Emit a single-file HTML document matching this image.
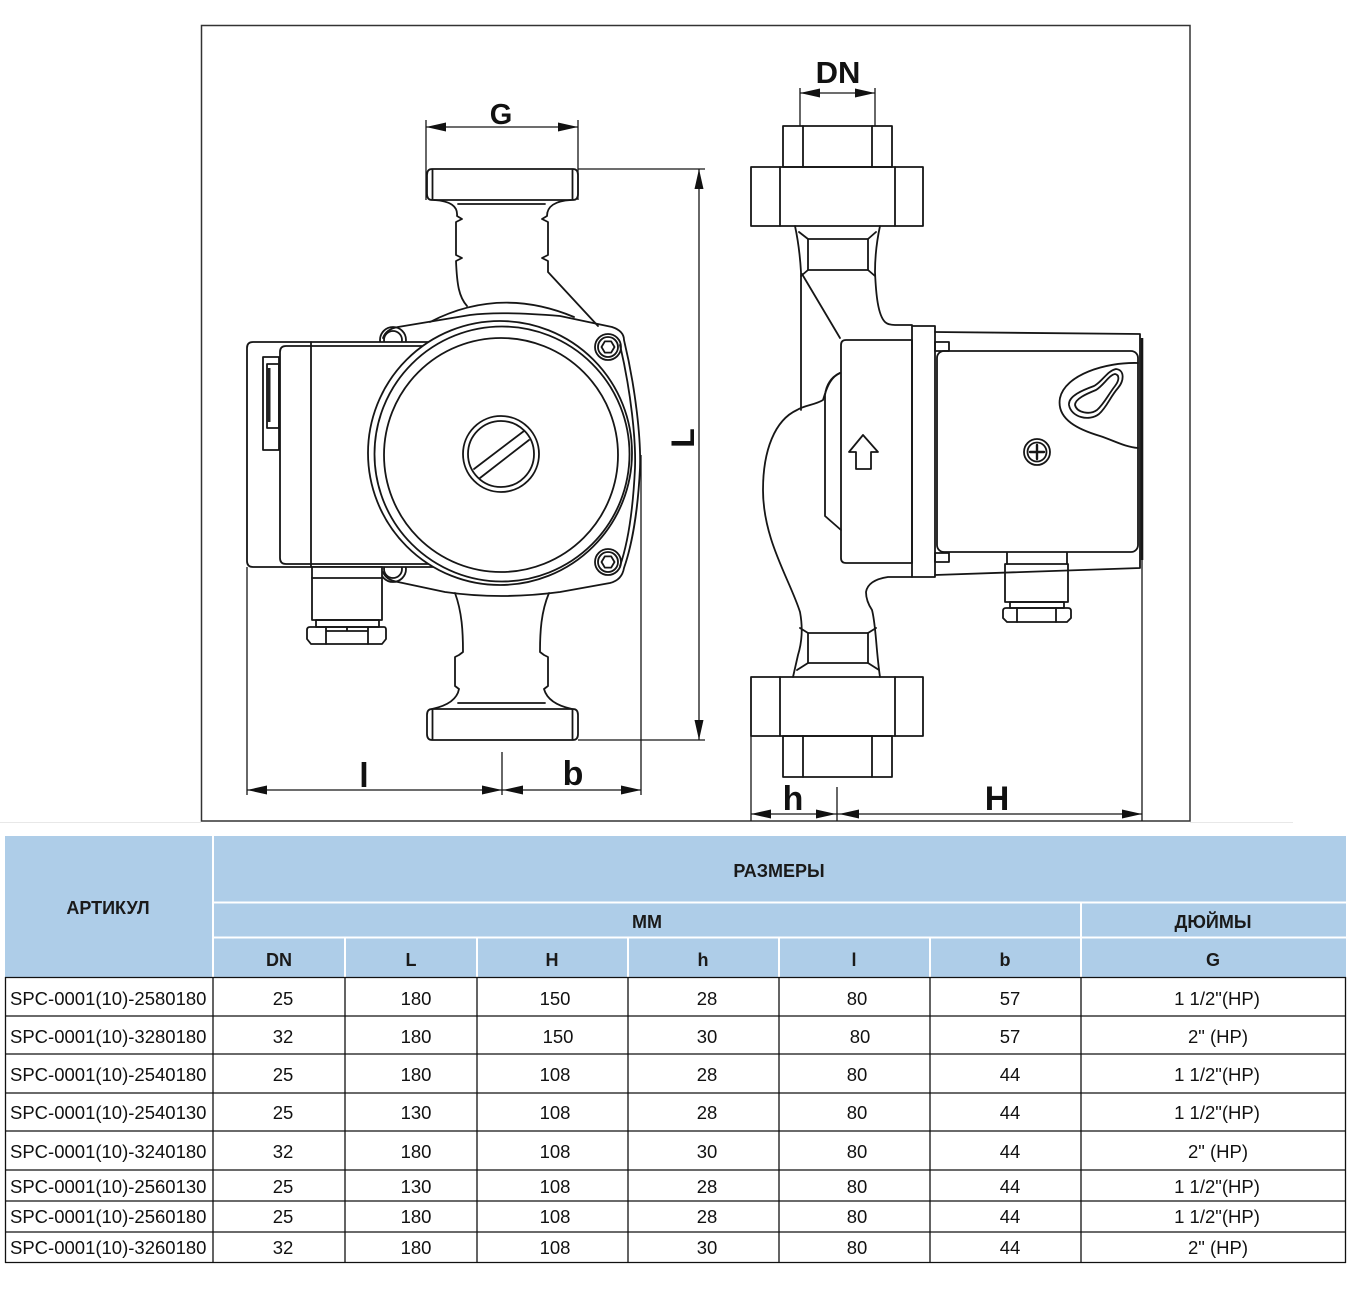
<!DOCTYPE html>
<html><head><meta charset="utf-8"><style>
html,body{margin:0;padding:0;background:#fff;}
svg{display:block;}
.d{fill:none;stroke:#161616;stroke-width:1.8;stroke-linejoin:round;stroke-linecap:round;}
.t{fill:none;stroke:#161616;stroke-width:1.3;}
.a{fill:#111;stroke:none;}
.lbl{font-family:"Liberation Sans",sans-serif;font-weight:bold;fill:#111;}
.hd{font-family:"Liberation Sans",sans-serif;font-weight:bold;font-size:18px;fill:#1a1a1a;}
.td{font-family:"Liberation Sans",sans-serif;font-size:18.5px;fill:#111;}
</style></head><body>
<svg width="1362" height="1313" viewBox="0 0 1362 1313" xmlns="http://www.w3.org/2000/svg">
<rect x="0" y="0" width="1362" height="1313" fill="#fff"/>
<line x1="0" y1="822.5" x2="201" y2="822.5" stroke="#e8e8e8" stroke-width="1"/>
<line x1="1190" y1="822.5" x2="1293" y2="822.5" stroke="#e8e8e8" stroke-width="1"/>
<rect x="201.5" y="25.5" width="988.5" height="795.5" fill="none" stroke="#333" stroke-width="1.5"/>

<!-- ===== LEFT (front) VIEW ===== -->
<g class="d">
  <path d="M432,169 H573 Q578,169 578,175 V194 Q578,200 573,200 H432 Q427,200 427,194 V175 Q427,169 432,169 Z"/>
  <line x1="432.5" y1="170" x2="432.5" y2="199"/>
  <line x1="572.5" y1="170" x2="572.5" y2="199"/>
  <path d="M434,200 C450,201 458,206 457,216 L462,219 L456,222 V255 L462,258 L456,261 C457,285 459,297 467,306"/>
  <path d="M571,200 C555,201 547,206 547,216 L542,219 L548,222 V255 L542,258 L548,261 V272 L598,326"/>
  <path d="M458,204 H545"/>
  <path d="M383,338 Q386,329 398,327 L470,315 Q500,311 560,316 L612,327 Q624,331 624,340 C636,390 641,440 640,468 C638,510 632,545 624,568 Q622,580 610,583 L560,592 Q500,600 445,592 L398,582 Q386,580 383,572"/>
  <path d="M430,322 Q500,286 574,317"/>
  <path d="M620,345 C631,392 636,440 635,468 C633,510 628,543 620,566"/>
  <circle cx="608" cy="347" r="13"/><circle cx="608" cy="347" r="10"/>
  <polygon points="614.5,347 611.2,352.6 604.8,352.6 601.5,347 604.8,341.4 611.2,341.4"/>
  <circle cx="608" cy="562" r="13"/><circle cx="608" cy="562" r="10"/>
  <polygon points="614.5,562 611.2,567.6 604.8,567.6 601.5,562 604.8,556.4 611.2,556.4"/>
  <circle cx="393" cy="340" r="13"/><circle cx="393" cy="340" r="9"/>
  <circle cx="393" cy="569" r="13"/><circle cx="393" cy="569" r="9"/>
  <path d="M447,342 H253 Q247,342 247,348 V561 Q247,567 253,567 H447 Z" fill="#fff"/>
  <path d="M447,346 H286 Q280,346 280,352 V558 Q280,564 286,564 H447"/>
  <line x1="311" y1="342" x2="311" y2="567"/>
  <rect x="263" y="357" width="16" height="93"/>
  <rect x="267" y="364" width="12" height="64"/>
  <circle cx="500" cy="453" r="132" fill="#fff"/>
  <circle cx="502" cy="454" r="127.5"/>
  <circle cx="501" cy="455" r="117"/>
  <circle cx="501" cy="454" r="38"/>
  <circle cx="501" cy="454" r="33"/>
  <line x1="474" y1="469" x2="524" y2="431"/>
  <line x1="480" y1="478" x2="529" y2="440"/>
  <rect x="312" y="567" width="70" height="53" fill="#fff"/>
  <line x1="312" y1="578" x2="382" y2="578"/>
  <rect x="316" y="620" width="63" height="7"/>
  <path d="M310,627 H384 Q386,627 386,630 V639 L382,644 H311 L307,639 V630 Q307,627 310,627 Z"/>
  <path d="M326,627 V644 M368,627 V644 M347,627 V631 M326,631 H368"/>
  <path d="M455,593 C462,612 463,632 463,652 L459,655 L455,657 V686 L459,689 C457,700 446,706 432,709"/>
  <path d="M549,593 C541,612 540,632 540,652 L544,655 L548,657 V686 L544,689 C547,700 558,706 572,709"/>
  <path d="M458,703 H545"/>
  <path d="M432,709 H573 Q578,709 578,715 V734 Q578,740 573,740 H432 Q427,740 427,734 V715 Q427,709 432,709 Z"/>
  <line x1="432.5" y1="710" x2="432.5" y2="739"/>
  <line x1="572.5" y1="710" x2="572.5" y2="739"/>
</g>
<rect x="267" y="368" width="3.5" height="54" fill="#222"/>

<g class="t">
  <path d="M426,120 V200 M578,120 V200 M426,127 H578"/>
  <path d="M578,169 H705 M578,740 H705 M699,169 V740"/>
  <path d="M247,567 V795 M502,752 V795 M641,455 V795 M247,790 H641"/>
</g>
<g class="a">
  <polygon points="426,127 446,122.5 446,131.5"/>
  <polygon points="578,127 558,122.5 558,131.5"/>
  <polygon points="699,169 694.5,189 703.5,189"/>
  <polygon points="699,740 694.5,720 703.5,720"/>
  <polygon points="247,790 267,785.5 267,794.5"/>
  <polygon points="502,790 482,785.5 482,794.5"/>
  <polygon points="503,790 523,785.5 523,794.5"/>
  <polygon points="641,790 621,785.5 621,794.5"/>
</g>
<text class="lbl" x="501" y="124" font-size="29" text-anchor="middle">G</text>
<text class="lbl" x="683" y="438" font-size="32" text-anchor="middle" dominant-baseline="central" transform="rotate(-90 683 438)">L</text>
<text class="lbl" x="364" y="787" font-size="34" text-anchor="middle">l</text>
<text class="lbl" x="573" y="785" font-size="34" text-anchor="middle">b</text>

<!-- ===== RIGHT (side) VIEW ===== -->
<g class="d">
  <rect x="783" y="126" width="109" height="41"/>
  <path d="M803,126 V167 M872,126 V167"/>
  <rect x="751" y="167" width="172" height="59"/>
  <path d="M780,167 V226 M895,167 V226"/>
  <path d="M795,226 C798,240 800,255 801,272 V410"/>
  <path d="M880,226 C877,240 875,255 875,272 C876,295 878,315 885,322 Q888,325 895,325 H912"/>
  <rect x="808" y="239" width="60" height="31"/>
  <path d="M799,232 L808,239 M876,232 L868,239 M801,276 L808,270 M875,276 L868,270"/>
  <path d="M802,274 L840,338"/>
  <path d="M846,340 H912 V563 H846 Q841,563 841,558 V345 Q841,340 846,340 Z"/>
  <path d="M840,373 C830,377 826,390 823,400 C815,405 805,405 797,410 C775,420 763,450 763,490 C763,540 790,580 800,612 C803,628 802,642 798,655 L793,677"/>
  <path d="M840,373 Q827,379 825,395 V516 L841,530"/>
  <rect x="912" y="326" width="23" height="251"/>
  <rect x="935" y="342" width="14" height="9"/>
  <rect x="935" y="553" width="14" height="9"/>
  <path d="M935,332 L1140,334 V568 L935,575"/>
  <rect x="937" y="351" width="201" height="201" rx="7"/>
  <path d="M1138,363 C1105,362 1065,375 1060,398 C1056,420 1080,430 1100,436 C1115,441 1125,447 1138,448"/>
  <path d="M1116,369 C1125,370 1124,381 1118,388 C1110,397 1107,407 1099,414 C1089,422 1071,417 1069,405 C1068,396 1083,390 1094,386 C1103,381 1107,371 1116,369 Z"/>
  <path d="M1115,374 C1120,375 1119,381 1115,386 C1108,395 1104,404 1097,410 C1090,415 1077,413 1075,405 C1075,399 1086,394 1096,390 C1104,385 1109,375 1115,374 Z"/>
  <circle cx="1037" cy="452" r="13"/>
  <circle cx="1037" cy="452" r="9.5"/>
  <path d="M1030,452 H1044 M1037,445 V459" stroke-width="2.4"/>
  <path d="M863,435 L878,452 L871,452 L871,469 L856,469 L856,452 L849,452 Z"/>
  <path d="M912,577 H888 Q868,580 866,592 Q866,601 872,610 C876,625 876,650 880,677"/>
  <rect x="808" y="633" width="60" height="30"/>
  <path d="M800,628 L808,633 M876,628 L868,633 M797,670 L808,663 M879,670 L868,663"/>
  <rect x="751" y="677" width="172" height="59"/>
  <path d="M780,677 V736 M895,677 V736"/>
  <rect x="783" y="736" width="109" height="41"/>
  <path d="M803,736 V777 M872,736 V777"/>
  <path d="M1007,553 V564 M1067,553 V564"/>
  <rect x="1005" y="564" width="63" height="38"/>
  <rect x="1010" y="602" width="54" height="6"/>
  <path d="M1006,608 H1068 Q1071,608 1071,611 V618 L1067,622 H1007 L1003,618 V611 Q1003,608 1006,608 Z"/>
  <path d="M1017,608 V622 M1056,608 V622"/>
</g>
<line x1="1142" y1="338" x2="1142" y2="560" stroke="#161616" stroke-width="2.6"/>
<g class="t">
  <path d="M800,88 V126 M875,88 V126 M800,93 H875"/>
  <path d="M751,736 V821 M837,787 V821 M1142,560 V821 M751,814 H1142"/>
</g>
<g class="a">
  <polygon points="800,93 820,88.5 820,97.5"/>
  <polygon points="875,93 855,88.5 855,97.5"/>
  <polygon points="751,814 771,809.5 771,818.5"/>
  <polygon points="836,814 816,809.5 816,818.5"/>
  <polygon points="839,814 859,809.5 859,818.5"/>
  <polygon points="1142,814 1122,809.5 1122,818.5"/>
</g>
<text class="lbl" x="838" y="83" font-size="31" text-anchor="middle">DN</text>
<text class="lbl" x="793" y="810" font-size="34" text-anchor="middle">h</text>
<text class="lbl" x="997" y="810" font-size="34" text-anchor="middle">H</text>

<!-- ===== TABLE ===== -->
<rect x="5" y="836" width="1341" height="141" fill="#aecde8"/>
<g stroke="#fff" stroke-width="2">
  <line x1="213" y1="836" x2="213" y2="977"/>
  <line x1="213" y1="902.5" x2="1346" y2="902.5"/>
  <line x1="213" y1="937.5" x2="1346" y2="937.5"/>
  <line x1="1081" y1="902" x2="1081" y2="977"/>
  <line x1="345" y1="937" x2="345" y2="977"/>
  <line x1="477" y1="937" x2="477" y2="977"/>
  <line x1="628" y1="937" x2="628" y2="977"/>
  <line x1="779" y1="937" x2="779" y2="977"/>
  <line x1="930" y1="937" x2="930" y2="977"/>
</g>
<g stroke="#111" stroke-width="1.3">
  <line x1="5" y1="977.5" x2="1346" y2="977.5"/>
  <line x1="5" y1="1016" x2="1346" y2="1016"/>
  <line x1="5" y1="1054" x2="1346" y2="1054"/>
  <line x1="5" y1="1093" x2="1346" y2="1093"/>
  <line x1="5" y1="1131" x2="1346" y2="1131"/>
  <line x1="5" y1="1170" x2="1346" y2="1170"/>
  <line x1="5" y1="1201" x2="1346" y2="1201"/>
  <line x1="5" y1="1232" x2="1346" y2="1232"/>
  <line x1="5" y1="1262.5" x2="1346" y2="1262.5"/>
  <line x1="5.5" y1="977" x2="5.5" y2="1263"/>
  <line x1="213" y1="977" x2="213" y2="1263"/>
  <line x1="345" y1="977" x2="345" y2="1263"/>
  <line x1="477" y1="977" x2="477" y2="1263"/>
  <line x1="628" y1="977" x2="628" y2="1263"/>
  <line x1="779" y1="977" x2="779" y2="1263"/>
  <line x1="930" y1="977" x2="930" y2="1263"/>
  <line x1="1081" y1="977" x2="1081" y2="1263"/>
  <line x1="1345.5" y1="977" x2="1345.5" y2="1263"/>
</g>
<g class="hd" text-anchor="middle">
  <text x="108" y="914">АРТИКУЛ</text>
  <text x="779" y="877">РАЗМЕРЫ</text>
  <text x="647" y="928">ММ</text>
  <text x="1213" y="928">ДЮЙМЫ</text>
  <text x="279" y="966">DN</text>
  <text x="411" y="966">L</text>
  <text x="552" y="966">H</text>
  <text x="703" y="966">h</text>
  <text x="854" y="966">l</text>
  <text x="1005" y="966">b</text>
  <text x="1213" y="966">G</text>
</g>
<g class="td">
  <text x="10" y="1005">SPC-0001(10)-2580180</text>
  <text x="10" y="1043">SPC-0001(10)-3280180</text>
  <text x="10" y="1081">SPC-0001(10)-2540180</text>
  <text x="10" y="1119">SPC-0001(10)-2540130</text>
  <text x="10" y="1158">SPC-0001(10)-3240180</text>
  <text x="10" y="1193">SPC-0001(10)-2560130</text>
  <text x="10" y="1223">SPC-0001(10)-2560180</text>
  <text x="10" y="1254">SPC-0001(10)-3260180</text>
</g>
<g class="td" text-anchor="middle">
  <text x="283" y="1005">25</text><text x="416" y="1005">180</text><text x="555" y="1005">150</text><text x="707" y="1005">28</text><text x="857" y="1005">80</text><text x="1010" y="1005">57</text><text x="1217" y="1005">1 1/2"(HP)</text>
  <text x="283" y="1043">32</text><text x="416" y="1043">180</text><text x="558" y="1043">150</text><text x="707" y="1043">30</text><text x="860" y="1043">80</text><text x="1010" y="1043">57</text><text x="1218" y="1043">2" (HP)</text>
  <text x="283" y="1081">25</text><text x="416" y="1081">180</text><text x="555" y="1081">108</text><text x="707" y="1081">28</text><text x="857" y="1081">80</text><text x="1010" y="1081">44</text><text x="1217" y="1081">1 1/2"(HP)</text>
  <text x="283" y="1119">25</text><text x="416" y="1119">130</text><text x="555" y="1119">108</text><text x="707" y="1119">28</text><text x="857" y="1119">80</text><text x="1010" y="1119">44</text><text x="1217" y="1119">1 1/2"(HP)</text>
  <text x="283" y="1158">32</text><text x="416" y="1158">180</text><text x="555" y="1158">108</text><text x="707" y="1158">30</text><text x="857" y="1158">80</text><text x="1010" y="1158">44</text><text x="1218" y="1158">2" (HP)</text>
  <text x="283" y="1193">25</text><text x="416" y="1193">130</text><text x="555" y="1193">108</text><text x="707" y="1193">28</text><text x="857" y="1193">80</text><text x="1010" y="1193">44</text><text x="1217" y="1193">1 1/2"(HP)</text>
  <text x="283" y="1223">25</text><text x="416" y="1223">180</text><text x="555" y="1223">108</text><text x="707" y="1223">28</text><text x="857" y="1223">80</text><text x="1010" y="1223">44</text><text x="1217" y="1223">1 1/2"(HP)</text>
  <text x="283" y="1254">32</text><text x="416" y="1254">180</text><text x="555" y="1254">108</text><text x="707" y="1254">30</text><text x="857" y="1254">80</text><text x="1010" y="1254">44</text><text x="1218" y="1254">2" (HP)</text>
</g>
</svg>
</body></html>
